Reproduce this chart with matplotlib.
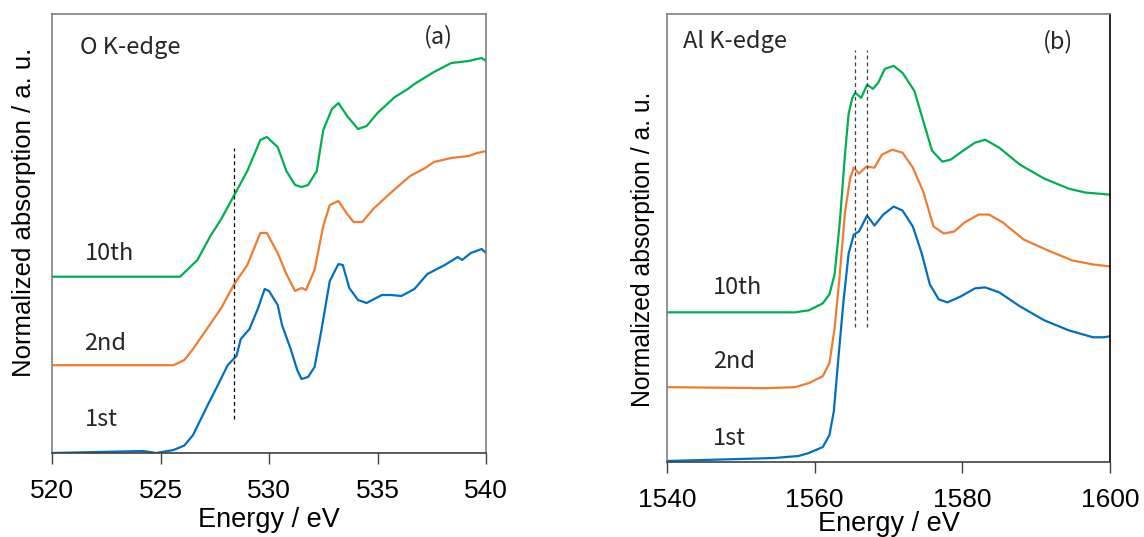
import matplotlib
matplotlib.use("Agg")
import matplotlib.pyplot as plt

# ---- O K-edge (panel a) ----
o_1st_e = [520.0, 524.2, 524.8, 525.6, 526.1, 526.5, 527.2, 527.6, 528.1, 528.5, 528.7,
           529.1, 529.5, 529.8, 530.0, 530.4, 530.6, 531.0, 531.3, 531.5, 531.8, 532.1,
           532.4, 532.8, 533.2, 533.4, 533.7, 534.1, 534.5, 535.2, 535.6, 536.1, 536.7,
           537.3, 538.1, 538.7, 538.9, 539.3, 539.8, 540.0]
o_1st_y = [0.0, 0.02, 0.0, 0.03, 0.075, 0.18, 0.49, 0.66, 0.88, 0.97, 1.14,
           1.24, 1.45, 1.64, 1.62, 1.48, 1.28, 1.04, 0.83, 0.74, 0.76, 0.86,
           1.21, 1.72, 1.89, 1.88, 1.65, 1.53, 1.50, 1.58, 1.58, 1.57, 1.64,
           1.79, 1.88, 1.96, 1.93, 2.00, 2.04, 2.00]

o_2nd_e = [520.0, 525.6, 526.1, 526.5, 527.2, 527.8, 528.4, 529.0, 529.6, 529.9, 530.4,
           530.8, 531.2, 531.5, 531.7, 532.1, 532.5, 532.8, 533.2, 533.6, 533.9, 534.3,
           534.8, 535.6, 536.5, 537.2, 537.6, 538.4, 539.2, 539.6, 540.0]
o_2nd_y = [0.878, 0.878, 0.93, 1.04, 1.26, 1.45, 1.69, 1.88, 2.20, 2.20, 2.00,
           1.79, 1.62, 1.65, 1.63, 1.83, 2.27, 2.48, 2.52, 2.39, 2.31, 2.31,
           2.44, 2.60, 2.77, 2.85, 2.91, 2.95, 2.97, 3.00, 3.02]

o_10th_e = [520.0, 525.9, 526.2, 526.7, 527.3, 527.8, 528.4, 529.0, 529.6, 529.9, 530.4,
            530.8, 531.2, 531.5, 531.8, 532.2, 532.5, 532.9, 533.2, 533.6, 534.1, 534.5,
            535.0, 535.8, 536.4, 536.7, 537.6, 538.4, 539.2, 539.8, 540.0]
o_10th_y = [1.763, 1.763, 1.825, 1.93, 2.17, 2.34, 2.58, 2.82, 3.13, 3.16, 3.06,
            2.82, 2.68, 2.66, 2.68, 2.82, 3.23, 3.44, 3.50, 3.37, 3.24, 3.27,
            3.40, 3.56, 3.64, 3.69, 3.81, 3.90, 3.92, 3.95, 3.92]

o_marker = [528.38]

# ---- Al K-edge (panel b) ----
al_1st_e = [1540.0, 1549.8, 1554.5, 1557.8, 1559.2, 1561.1, 1562.0, 1562.6, 1563.2, 1563.9,
            1564.6, 1565.3, 1566.0, 1567.1, 1568.1, 1569.3, 1570.7, 1571.9, 1573.3, 1574.5,
            1575.6, 1576.8, 1578.0, 1579.8, 1581.7, 1583.1, 1585.0, 1587.8, 1591.1, 1594.4,
            1597.7, 1599.1, 1600.0]
al_1st_y = [0.01, 0.03, 0.04, 0.06, 0.09, 0.15, 0.27, 0.51, 1.03, 1.61,
            2.09, 2.28, 2.31, 2.47, 2.37, 2.48, 2.56, 2.52, 2.36, 2.09,
            1.78, 1.63, 1.60, 1.66, 1.74, 1.75, 1.70, 1.56, 1.42, 1.32,
            1.25, 1.25, 1.26]

al_2nd_e = [1540.0, 1553.6, 1557.3, 1559.2, 1561.1, 1562.0, 1562.7, 1563.4, 1564.1, 1564.8,
            1565.3, 1566.0, 1567.0, 1568.1, 1569.1, 1570.5, 1571.9, 1573.3, 1574.7, 1576.1,
            1577.5, 1578.9, 1580.3, 1582.2, 1583.6, 1585.5, 1588.3, 1591.6, 1594.9, 1597.7,
            1600.0]
al_2nd_y = [0.75, 0.74, 0.75, 0.79, 0.86, 0.99, 1.34, 1.88, 2.50, 2.84,
            2.95, 2.89, 2.96, 2.95, 3.08, 3.13, 3.10, 2.95, 2.71, 2.36,
            2.29, 2.31, 2.40, 2.48, 2.48, 2.40, 2.23, 2.12, 2.02, 1.98,
            1.96]

al_10th_e = [1540.0, 1557.3, 1559.2, 1561.1, 1562.0, 1562.7, 1563.4, 1564.1, 1564.6, 1565.1,
             1565.5, 1566.3, 1567.1, 1567.9, 1568.6, 1569.5, 1570.7, 1571.9, 1573.5, 1574.7,
             1575.9, 1577.3, 1578.4, 1580.3, 1581.7, 1583.1, 1585.0, 1587.8, 1591.1, 1594.4,
             1596.7, 1600.0]
al_10th_y = [1.50, 1.50, 1.52, 1.59, 1.68, 1.88, 2.40, 3.08, 3.49, 3.65,
             3.70, 3.65, 3.78, 3.74, 3.80, 3.94, 3.97, 3.90, 3.72, 3.42,
             3.12, 3.01, 3.03, 3.13, 3.20, 3.23, 3.15, 2.98, 2.84, 2.74,
             2.70, 2.68]

al_markers = [1565.4, 1567.05]

labels = ["1st", "2nd", "10th"]
colors = ["#0070C0", "#ED7D31", "#00B050"]

W, H = 1144, 537
fig = plt.figure(figsize=(W / 100, H / 100), dpi=100)

tick_font = "Liberation Sans"
note_font = ["Noto Sans CJK JP", "DejaVu Sans"]


def style_axes(ax, spine_color, ylabel_size):
    for s in ["left", "top", "right"]:
        ax.spines[s].set_color(spine_color)
        ax.spines[s].set_linewidth(1.2)
    ax.spines["bottom"].set_color("#404040")
    ax.spines["bottom"].set_linewidth(1.2)
    ax.set_yticks([])
    ax.tick_params(axis="x", direction="out", length=8, width=1.0,
                   color="#404040", labelsize=19, pad=11)
    for t in ax.get_xticklabels():
        t.set_fontfamily(tick_font)
    ax.set_xlabel("Energy / eV", fontsize=19.5, family=tick_font)
    ax.set_ylabel("Normalized absorption / a. u.", fontsize=ylabel_size, family=tick_font)


# panel (a)
ax1 = fig.add_axes([52 / W, (H - 453) / H, 434 / W, 439 / H])
for e, y, c in zip([o_1st_e, o_2nd_e, o_10th_e], [o_1st_y, o_2nd_y, o_10th_y], colors):
    ax1.plot(e, y, color=c, lw=1.6)
for m in o_marker:
    ax1.plot([m, m], [0.34, 3.05], color="black", lw=0.9, ls=(0, (3, 2.5)))
ax1.set_xlim(520, 540)
ax1.set_ylim(0, 4.39)
ax1.set_xticks([520, 525, 530, 535, 540])
style_axes(ax1, "#7f7f7f", 18.5)
ax1.yaxis.set_label_coords(-16 / 434, 0.548)
ax1.xaxis.set_label_coords(0.5, -(520 - 453) / 439)
ax1.xaxis.label.set_va("center")
ax1.text(521.3, 4.05, "O K-edge", fontsize=17, family=note_font, va="center", color="#262626")
ax1.text(537.8, 4.16, "(a)", fontsize=17, family=note_font, va="center", ha="center", color="#262626")
for lab, yy in zip(labels, [0.34, 1.10, 2.0]):
    ax1.text(521.5, yy, lab, fontsize=17, family=note_font, va="center", color="#262626")

# panel (b)
ax2 = fig.add_axes([667 / W, (H - 462) / H, 443 / W, 448 / H])
for e, y, c in zip([al_1st_e, al_2nd_e, al_10th_e], [al_1st_y, al_2nd_y, al_10th_y], colors):
    ax2.plot(e, y, color=c, lw=1.6)
for m in al_markers:
    ax2.plot([m, m], [1.35, 4.13], color="#404040", lw=0.9, ls=(0, (3, 2.5)))
ax2.set_xlim(1540, 1600)
ax2.set_ylim(0, 4.49)
ax2.set_xticks([1540, 1560, 1580, 1600])
style_axes(ax2, "#7f7f7f", 17.8)
ax2.spines["right"].set_color("black")
ax2.yaxis.set_label_coords(-12 / 443, 0.475)
ax2.xaxis.set_label_coords(0.5, -(524 - 462) / 448)
ax2.xaxis.label.set_va("center")
ax2.text(1542.1, 4.21, "Al K-edge", fontsize=17, family=note_font, va="center", color="#262626")
ax2.text(1593.0, 4.21, "(b)", fontsize=17, family=note_font, va="center", ha="center", color="#262626")
for lab, yy in zip(labels, [0.24, 1.01, 1.75]):
    ax2.text(1546.2, yy, lab, fontsize=17, family=note_font, va="center", color="#262626")

fig.savefig("out.png", dpi=100)
